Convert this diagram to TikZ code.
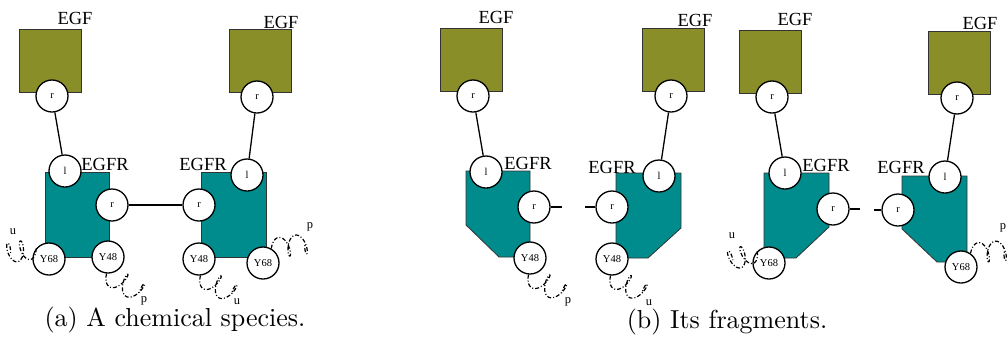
\documentclass[tikz,border=0pt]{standalone}
\usepackage{fontspec}
\newfontfamily\tms{Liberation Serif}
\newfontfamily\capfont{lmroman10-regular.otf}
\definecolor{egfolive}{RGB}{137,142,41}
\definecolor{egfrteal}{RGB}{0,140,140}
\tikzset{
  site/.style={circle, draw, line width=1.3pt, fill=white, minimum size=32pt,
    inner sep=0pt, font=\tms\fontsize{10.5}{10.5}\selectfont},
  egfbox/.style={draw=black!80, fill=egfolive, line width=0.8pt,
    minimum width=62pt, minimum height=63pt, inner sep=0pt},
  body/.style={draw=black!80, fill=egfrteal, line width=0.8pt},
  bond/.style={line width=1.3pt},
  lbl/.style={font=\tms\fontsize{18.5}{18.5}\selectfont, inner sep=0pt},
  tag/.style={font=\tms\fontsize{12.5}{12.5}\selectfont, inner sep=0pt},
  tail/.style={line width=1.2pt, dash pattern=on 4pt off 2pt on 1pt off 2pt},
  capt/.style={font=\capfont\fontsize{26}{30}\selectfont, inner sep=0pt}
}
% a two-turn spring: start point, axis angle, axis length, side (+1/-1)
\newcommand\springtail[4]{%
  \begin{scope}[shift={(#1)}, x=1pt, y=1pt, rotate=#2]
    \draw[tail] plot[domain=0:12.566, samples=90, smooth, variable=\t]
      ({#3/12.566*\t + 4.5*(1-cos(\t r))}, {#4*10*sin(\t r)});
  \end{scope}}
\begin{document}
\begin{tikzpicture}[x=1pt,y=-1pt]
\useasboundingbox (0,0) rectangle (1008,338);

% ---------------- (a) the complex ----------------
\filldraw[body] (45,172) rectangle (109,257);
\filldraw[body] (201,172) rectangle (266,257);
\node[egfbox] (egfA1) at (50,60.5) {};
\node[egfbox] (egfA2) at (260,61) {};
\node[lbl] (tEgfA1) at (75,18) {EGF};
\node[lbl] (tEgfA2) at (281,22) {EGF};
\node[lbl] (tEgfrA1) at (105,164) {EGFR};
\node[lbl] (tEgfrA2) at (203,164) {EGFR};

\node[site] (rA1) at (52,96) {r};
\node[site] (rA2) at (257,97) {r};
\node[site] (lA1) at (65,171) {l};
\node[site] (lA2) at (247,175) {l};
\node[site] (dA1) at (112,205) {r};
\node[site] (dA2) at (199,205) {r};
\node[site] (y68A1) at (49,259) {Y68};
\node[site] (y48A1) at (108,257) {Y48};
\node[site] (y48A2) at (199,259) {Y48};
\node[site] (y68A2) at (263,263) {Y68};

\draw[bond] (rA1) -- (lA1);
\draw[bond] (rA2) -- (lA2);
\draw[bond] (dA1) -- (dA2);

\springtail{y68A1.140}{190}{26}{1}
\springtail{y48A1.-95}{-30}{38}{-1}
\springtail{y48A2.-85}{-30}{36}{-1}
\springtail{y68A2.60}{8}{34}{1}
\node[tag] (uA1) at (13,232) {u};
\node[tag] (pA1) at (144,301) {p};
\node[tag] (uA2) at (237,302) {u};
\node[tag] (pA2) at (310,227) {p};

\node[capt] (capA) at (175,320) {(a) A chemical species.};

% ---------------- (b) the fragments ----------------
\filldraw[body] (466,171) -- (530,171) -- (530,257) -- (499,257) -- (466,225) -- cycle;
\filldraw[body] (616,173) -- (681,173) -- (681,228) -- (648,258) -- (616,258) -- cycle;
\filldraw[body] (764,173) -- (829,173) -- (829,227) -- (796,258) -- (764,258) -- cycle;
\filldraw[body] (902,176) -- (967,176) -- (967,262) -- (937,262) -- (902,229) -- cycle;

\node[egfbox] (egfB1) at (471.5,59.5) {};
\node[egfbox] (egfB2) at (673,59.5) {};
\node[egfbox] (egfB3) at (770.5,62) {};
\node[egfbox] (egfB4) at (959,63) {};
\node[lbl] (tEgfB1) at (496,17) {EGF};
\node[lbl] (tEgfB2) at (695,20) {EGF};
\node[lbl] (tEgfB3) at (795,19) {EGF};
\node[lbl] (tEgfB4) at (980,23) {EGF};
\node[lbl] (tEgfrB1) at (528,163) {EGFR};
\node[lbl] (tEgfrB2) at (612,167) {EGFR};
\node[lbl] (tEgfrB3) at (826,165) {EGFR};
\node[lbl] (tEgfrB4) at (901,167) {EGFR};

\node[site] (rB1) at (473,96) {r};
\node[site] (rB2) at (671,96) {r};
\node[site] (rB3) at (772,97) {r};
\node[site] (rB4) at (957,98) {r};
\node[site] (lB1) at (486,172) {l};
\node[site] (lB2) at (659,176) {l};
\node[site] (lB3) at (785,173) {l};
\node[site] (lB4) at (945,177) {l};
\node[site] (dB1) at (534,207) {r};
\node[site] (dB2) at (612,207) {r};
\node[site] (dB3) at (833,209) {r};
\node[site] (dB4) at (898,210) {r};
\node[site] (y48B1) at (530,258) {Y48};
\node[site] (y48B2) at (612,259) {Y48};
\node[site] (y68B3) at (769,263) {Y68};
\node[site] (y68B4) at (961,267) {Y68};

\draw[bond] (rB1) -- (lB1);
\draw[bond] (rB2) -- (lB2);
\draw[bond] (rB3) -- (lB3);
\draw[bond] (rB4) -- (lB4);

\coordinate (sB1) at (562,207);
\coordinate (sB2) at (585,207);
\coordinate (sB3) at (860,209);
\coordinate (sB4) at (874,210);
\draw[bond] (dB1) -- (sB1);
\draw[bond] (dB2) -- (sB2);
\draw[bond] (dB3) -- (sB3);
\draw[bond] (dB4) -- (sB4);

\springtail{y48B1.-95}{-29}{38}{-1}
\springtail{y48B2.-95}{-29}{36}{-1}
\springtail{y68B3.135}{200}{26}{1}
\springtail{y68B4.55}{5}{34}{1}
\node[tag] (pB1) at (568,302) {p};
\node[tag] (uB2) at (649,303) {u};
\node[tag] (uB3) at (732,236) {u};
\node[tag] (pB4) at (1003,228) {p};

\node[capt] (capB) at (727,322) {(b) Its fragments.};
\end{tikzpicture}
\end{document}
